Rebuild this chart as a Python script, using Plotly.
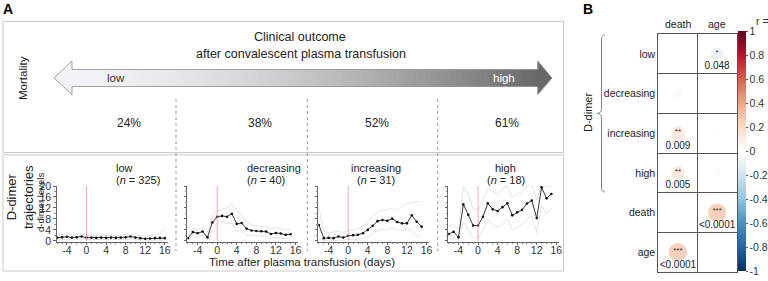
import math
import plotly.graph_objects as go

W, H = 768, 281


def px(X):
    return X / W


def py(Y):
    return 1 - Y / H


FONT = "Liberation Sans, Arial, sans-serif"
NARROW = "Liberation Sans Narrow, Arial Narrow, Liberation Sans, Arial, sans-serif"

# ---------------- data ----------------
groups = ["low", "decreasing", "increasing", "high"]
group_n = [325, 40, 31, 18]
mortality = ["24%", "38%", "52%", "61%"]

days = list(range(-6, 16))
days_low = list(range(-6, 17))

low_mean = [1.2, 1.3, 1.5, 1.2, 1.3, 1.6, 1.2, 1.2, 1.1, 1.2, 1.1, 1.2, 1.1, 1.2, 1.3, 1.6, 1.2, 1.0, 0.8, 0.9, 1.0, 1.1, 1.0]
low_upper = [2.2, 2.3, 2.5, 2.2, 2.3, 2.6, 2.1, 2.0, 2.0, 2.1, 2.0, 2.1, 2.0, 2.1, 2.2, 2.5, 2.1, 1.9, 1.8, 1.9, 2.2, 2.8, 4.2]
low_lower = [0.4, 0.5, 0.6, 0.4, 0.5, 0.7, 0.5, 0.5, 0.4, 0.5, 0.4, 0.5, 0.4, 0.5, 0.5, 0.7, 0.5, 0.3, 0.2, 0.2, 0.3, 0.3, 0.2]

dec_mean = [1.0, 3.2, 2.8, 3.4, 1.3, 6.7, 8.8, 9.1, 8.8, 9.9, 6.2, 6.5, 4.4, 3.8, 3.6, 3.5, 3.4, 2.5, 2.9, 2.7, 2.2, 2.4]
dec_upper = [2.5, 4.5, 4.2, 4.8, 3.0, 9.5, 11.0, 11.5, 12.0, 13.5, 11.0, 9.5, 7.0, 5.8, 5.5, 5.3, 5.0, 4.3, 4.8, 4.5, 4.0, 4.2]
dec_lower = [0.2, 1.8, 1.5, 2.0, 0.3, 4.0, 6.5, 6.8, 6.2, 6.5, 3.5, 3.8, 2.2, 2.0, 1.8, 1.8, 1.7, 1.0, 1.2, 1.1, 0.8, 1.0]

inc_mean = [5.8, 1.0, 1.1, 1.0, 1.6, 1.2, 1.9, 2.1, 2.2, 2.8, 4.0, 5.5, 7.2, 7.6, 7.3, 8.1, 6.9, 6.4, 6.4, 9.3, 7.0, 5.2]
inc_upper = [12.0, 3.5, 3.0, 3.2, 3.5, 3.0, 3.8, 4.0, 4.5, 5.5, 7.0, 9.0, 10.5, 11.5, 11.3, 12.0, 10.8, 12.5, 13.7, 14.0, 14.3, 14.5]
inc_lower = [0.5, 0.2, 0.2, 0.1, 0.3, 0.2, 0.5, 0.6, 0.7, 0.8, 1.5, 2.5, 3.8, 4.2, 4.0, 4.8, 4.2, 3.8, 4.6, 3.5, 2.0, 1.0]

high_mean = [2.5, 3.3, 1.3, 13.3, 9.5, 5.6, 5.6, 8.8, 13.7, 11.5, 10.9, 12.3, 13.7, 9.3, 10.4, 11.3, 13.6, 14.7, 8.3, 19.5, 15.5, 17.1]
high_upper = [5.0, 6.0, 4.0, 20.0, 17.0, 12.0, 11.0, 15.0, 19.0, 18.0, 17.0, 19.0, 20.0, 16.0, 17.0, 18.0, 20.0, 20.0, 15.0, 20.0, 20.0, 20.0]
high_lower = [0.5, 1.0, 0.2, 7.0, 4.0, 1.0, 1.0, 4.0, 8.0, 6.0, 5.0, 6.0, 8.0, 4.0, 5.0, 6.0, 8.0, 9.0, 3.0, 13.0, 10.0, 12.0]

xtick_vals = [-4, 0, 4, 8, 12, 16]
xtick_text = ["-4", "0", "4", "8", "12", "16"]
ytick_vals = [0, 4, 8, 12, 16, 20]
ytick_text = ["0", "4", "8", "12", "16", "20"]

rows = ["low", "decreasing", "increasing", "high", "death", "age"]
cols = ["death", "age"]
corr_row = ["low", "decreasing", "increasing", "increasing", "high", "high", "death", "age"]
corr_col = ["age", "death", "death", "age", "death", "age", "age", "death"]
corr_r = [-0.15, 0.06, 0.18, -0.03, 0.18, 0.05, 0.32, 0.32]
corr_stars = ["*", "", "**", "", "**", "", "***", "***"]
corr_p = ["0.048", "", "0.009", "", "0.005", "", "<0.0001", "<0.0001"]

cbar_vals = [1, 0.8, 0.6, 0.4, 0.2, 0, -0.2, -0.4, -0.6, -0.8, -1]
cbar_text = ["1", "0.8", "0.6", "0.4", "0.2", "0", "-0.2", "-0.4", "-0.6", "-0.8", "-1"]

rdbu = [[0.0, "#053061"], [0.1, "#2166AC"], [0.2, "#4393C3"], [0.3, "#92C5DE"],
        [0.4, "#D1E5F0"], [0.5, "#FFFFFF"], [0.6, "#FDDBC7"], [0.7, "#F4A582"],
        [0.8, "#D6604D"], [0.9, "#B2182B"], [1.0, "#67001F"]]

# ---------------- figure ----------------
fig = go.Figure()
shapes = []
annotations = []

series = [
    (days_low, low_mean, low_upper, low_lower),
    (days, dec_mean, dec_upper, dec_lower),
    (days, inc_mean, inc_upper, inc_lower),
    (days, high_mean, high_upper, high_lower),
]
lefts = [56.7, 187.4, 318.4, 448.2]
PW = 111
YTOP, YBOT = 186, 242

for i, (d, m, up, lo) in enumerate(series):
    sfx = "" if i == 0 else str(i + 1)
    xa, ya = "x" + sfx, "y" + sfx
    for band in (up, lo):
        fig.add_trace(go.Scatter(x=d, y=band, mode="lines", xaxis=xa, yaxis=ya,
                                 line=dict(color="#e2e2e2", width=1),
                                 hoverinfo="skip", showlegend=False))
    fig.add_trace(go.Scatter(x=d, y=m, mode="lines+markers", xaxis=xa, yaxis=ya,
                             line=dict(color="#222222", width=0.9),
                             marker=dict(size=2.6, color="#111111"),
                             showlegend=False))
    L = lefts[i]
    fig.layout["xaxis" + sfx] = dict(
        domain=[px(L), px(L + PW)], range=[-6.1, 16.6], anchor=ya,
        tickmode="array", tickvals=xtick_vals, ticktext=xtick_text,
        ticks="outside", ticklen=2.5, tickcolor="#666", tickwidth=0.8,
        ticklabelstandoff=-4,
        showline=True, linecolor="#666", linewidth=0.8,
        showgrid=False, zeroline=False,
        tickfont=dict(size=10.5, color="#333", family=NARROW),
        minor=dict(dtick=1, tick0=0, ticks="outside", ticklen=1.5, tickcolor="#888"),
        fixedrange=True, automargin=False,
    )
    fig.layout["yaxis" + sfx] = dict(
        domain=[py(YBOT), py(YTOP)], range=[-0.4, 20], anchor=xa,
        tickmode="array", tickvals=ytick_vals, ticktext=ytick_text,
        showticklabels=(i == 0),
        ticks="outside", ticklen=2.5, tickcolor="#666", tickwidth=0.8,
        showline=True, linecolor="#666", linewidth=0.8,
        showgrid=False, zeroline=False,
        tickfont=dict(size=10.5, color="#333", family=NARROW),
        minor=dict(dtick=2, ticks="outside", ticklen=1.5, tickcolor="#888"),
        fixedrange=True, automargin=False,
    )
    # transfusion day marker
    shapes.append(dict(type="line", xref=xa, yref=ya, x0=0, x1=0, y0=0, y1=20,
                       line=dict(color="#ec9a9a", width=0.8)))
    cx = L + PW / 2 + 2
    annotations.append(dict(x=px(cx), y=py(168), xref="paper", yref="paper",
                            text=groups[i], showarrow=False,
                            font=dict(size=11, color="#222", family=NARROW)))
    annotations.append(dict(x=px(cx), y=py(180), xref="paper", yref="paper",
                            text="(<i>n</i> = %d)" % group_n[i], showarrow=False,
                            font=dict(size=11, color="#222", family=NARROW)))
    annotations.append(dict(x=px(cx + 1), y=py(123), xref="paper", yref="paper",
                            text=mortality[i], showarrow=False,
                            font=dict(size=12, color="#222", family=FONT)))

# ---------------- correlation matrix ----------------
cx_vals = [cols.index(c) + 0.5 for c in corr_col]
cy_vals = [rows.index(r) + 0.5 for r in corr_row]
fig.add_trace(go.Scatter(
    x=cx_vals, y=cy_vals, mode="markers", xaxis="x5", yaxis="y5",
    marker=dict(size=[32 * math.sqrt(abs(v)) for v in corr_r], color=corr_r,
                cmin=-1, cmax=1, colorscale=rdbu, line=dict(width=0),
                colorbar=dict(x=px(737.5), xanchor="left", y=py(151), yanchor="middle",
                              len=240, lenmode="pixels", thickness=8,
                              thicknessmode="pixels", outlinewidth=0,
                              tickmode="array", tickvals=cbar_vals, ticktext=cbar_text,
                              ticks="outside", ticklen=2, tickcolor="#555",
                              tickfont=dict(size=10.5, color="#333", family=NARROW),
                              xpad=0, ypad=0)),
    showlegend=False, hoverinfo="skip"))
fig.add_trace(go.Scatter(
    x=cx_vals, y=[v - 0.03 for v in cy_vals], mode="text", xaxis="x5", yaxis="y5",
    text=corr_stars, textposition="middle center",
    textfont=dict(size=8, color="#333", family=FONT),
    showlegend=False, hoverinfo="skip"))
fig.add_trace(go.Scatter(
    x=cx_vals, y=[v + 0.33 for v in cy_vals], mode="text", xaxis="x5", yaxis="y5",
    text=corr_p, textposition="middle center",
    textfont=dict(size=10, color="#222", family=NARROW),
    showlegend=False, hoverinfo="skip"))

fig.layout["xaxis5"] = dict(
    domain=[px(658.3), px(736.7)], range=[0, 2], anchor="y5",
    showticklabels=False, ticks="", showgrid=False, zeroline=False,
    showline=True, mirror=True, linecolor="#555", linewidth=1,
    minor=dict(tickmode="array", tickvals=list(range(len(cols) + 1)), showgrid=True,
               gridcolor="#555", gridwidth=1),
    fixedrange=True, automargin=False,
)
fig.layout["yaxis5"] = dict(
    domain=[py(272), py(34)], range=[len(rows), 0], anchor="x5",
    tickmode="array", tickvals=[k + 0.5 for k in range(len(rows))], ticktext=rows,
    ticks="", showgrid=False, zeroline=False,
    showline=True, mirror=True, linecolor="#555", linewidth=1,
    minor=dict(tickmode="array", tickvals=list(range(len(rows) + 1)), showgrid=True,
               gridcolor="#555", gridwidth=1),
    tickfont=dict(size=10.5, color="#222", family=NARROW), fixedrange=True,
    automargin=False,
)
# column headers on top of the matrix
for k, c in enumerate(cols):
    annotations.append(dict(x=k + 0.5, y=py(24), xref="x5", yref="paper", text=c,
                            showarrow=False, xanchor="center", yanchor="middle",
                            font=dict(size=10.5, color="#222", family=NARROW)))

# ---------------- decorations: panel A ----------------
box_line = dict(color="#c8c8c8", width=1)
shapes.append(dict(type="rect", xref="paper", yref="paper", x0=px(3), x1=px(563.5),
                   y0=py(152.5), y1=py(21.3), line=box_line, layer="below"))
shapes.append(dict(type="rect", xref="paper", yref="paper", x0=px(3), x1=px(563.5),
                   y0=py(271), y1=py(154.8), line=box_line, layer="below"))
for X in (176, 307.3, 437.7):
    shapes.append(dict(type="line", xref="paper", yref="paper", x0=px(X), x1=px(X),
                       y0=py(99), y1=py(251), line=dict(color="#9a9a9a", width=1, dash="dot")))

# gradient arrow
AX0, AX1, AT0, AT1 = 72, 538, 54, 552
AY0, AY1, AYC, AH0, AH1 = 69.5, 86.5, 78, 61, 94.5
c0 = (241, 243, 247)
c1 = (104, 104, 104)


def grad(t):
    f = t ** 1.6
    return "rgb(%d,%d,%d)" % tuple(round(a + (b - a) * f) for a, b in zip(c0, c1))


NSEG = 90
step = (AX1 - AX0) / NSEG
for k in range(NSEG):
    xa0 = AX0 + k * step
    shapes.append(dict(type="rect", xref="paper", yref="paper",
                       x0=px(xa0), x1=px(xa0 + step + 0.6), y0=py(AY1), y1=py(AY0),
                       fillcolor=grad((k + 0.5) / NSEG), line=dict(width=0)))


def P(X, Y):
    return "%f,%f" % (px(X), py(Y))


shapes.append(dict(type="path", xref="paper", yref="paper",
                   path="M%s L%s L%s Z" % (P(AX0 + 0.5, AH0), P(AT0, AYC), P(AX0 + 0.5, AH1)),
                   fillcolor=grad(0), line=dict(width=0)))
shapes.append(dict(type="path", xref="paper", yref="paper",
                   path="M%s L%s L%s Z" % (P(AX1 - 0.5, AH0), P(AT1, AYC), P(AX1 - 0.5, AH1)),
                   fillcolor=grad(1), line=dict(width=0)))
shapes.append(dict(type="path", xref="paper", yref="paper",
                   path="M%s L%s L%s L%s L%s L%s L%s L%s L%s L%s Z" % (
                       P(AX0, AY0), P(AX0, AH0), P(AT0, AYC), P(AX0, AH1), P(AX0, AY1),
                       P(AX1, AY1), P(AX1, AH1), P(AT1, AYC), P(AX1, AH0), P(AX1, AY0)),
                   line=dict(color="#8c8c8c", width=0.8)))

# brace for D-dimer rows
BX, BT, BB, BM, BL = 601.5, 35, 192, 113.5, 597
brace = ("M%s Q%s %s L%s Q%s %s Q%s %s L%s Q%s %s" % (
    P(605, BT), P(BX, BT), P(BX, BT + 5), P(BX, BM - 5), P(BX, BM), P(BL, BM),
    P(BX, BM), P(BX, BM + 5), P(BX, BB - 5), P(BX, BB), P(605, BB)))
shapes.append(dict(type="path", xref="paper", yref="paper", path=brace,
                   line=dict(color="#777", width=0.9)))


def ann(X, Y, text, size, color="#222", angle=0, xanchor="center", family=FONT):
    annotations.append(dict(x=px(X), y=py(Y), xref="paper", yref="paper", text=text,
                            showarrow=False, textangle=angle, xanchor=xanchor,
                            yanchor="middle",
                            font=dict(size=size, color=color, family=family)))


ann(8, 9, "<b>A</b>", 14, "#000")
ann(588, 9, "<b>B</b>", 14, "#000")
ann(300, 37, "Clinical outcome", 12.5)
ann(301, 54, "after convalescent plasma transfusion", 12.5)
ann(116, 78, "low", 11.5, "#333")
ann(504, 78, "high", 11.5, "#ffffff")
ann(23, 78, "Mortality", 11.5, "#222", angle=-90)
ann(20, 197, "D-dimer<br>trajectories", 13, "#222", angle=-90, family=NARROW)
ann(40, 203, "d-dimer levels", 9.5, "#222", angle=-90, family=NARROW)
ann(302, 262, "Time after plasma transfusion (days)", 11.5, family=NARROW)
ann(588, 113, "D-dimer", 11, "#222", angle=-90, family=NARROW)
ann(754, 21, "r =", 10.5, "#333", xanchor="left", family=NARROW)

fig.update_layout(
    width=W, height=H, margin=dict(l=0, r=0, t=0, b=0, autoexpand=False),
    paper_bgcolor="white", plot_bgcolor="rgba(0,0,0,0)",
    shapes=shapes, annotations=annotations, showlegend=False,
    font=dict(family=FONT, color="#222"),
)

fig.write_html("out.html", config={"displayModeBar": False},
               post_script="document.body.style.margin='0px';document.body.style.overflow='hidden';")
